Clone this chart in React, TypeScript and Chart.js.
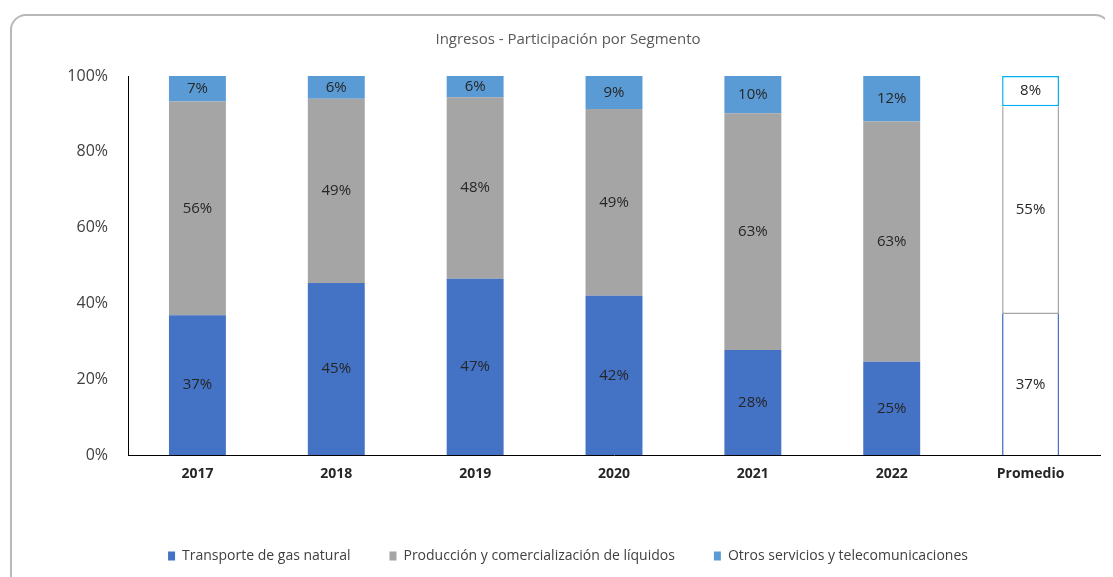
import React, { useEffect, useRef } from "react";
import { Chart, registerables } from "chart.js";

Chart.register(...registerables);

const categories = ["2017", "2018", "2019", "2020", "2021", "2022", "Promedio"];
const transporte = [36.9, 45.4, 46.5, 42.0, 27.7, 24.6, 37.2];
const produccion = [56.4, 48.6, 47.9, 49.3, 62.5, 63.4, 54.8];
const otros = [6.7, 6.0, 5.6, 8.7, 9.8, 12.0, 8.0];
const yTicks = [0, 20, 40, 60, 80, 100];

const seriesNames = [
  "Transporte de gas natural",
  "Producción y comercialización de líquidos",
  "Otros servicios y telecomunicaciones",
];
const fillColors = ["#4472C4", "#A5A5A5", "#5B9BD5"];
const promedioBorders = ["#4472C4", "#A5A5A5", "#00B0F0"];
const promedioEdges = [
  { top: 0, bottom: 0, left: 1.5, right: 1.5 },
  { top: 0, bottom: 1.5, left: 1.5, right: 1.5 },
  { top: 1.5, bottom: 1.5, left: 1.5, right: 1.5 },
];
const PROM = categories.length - 1;

const FONT = "'Open Sans', 'Noto Sans', sans-serif";

const labelPlugin = {
  id: "segLabels",
  afterDatasetsDraw(chart: any) {
    const ctx = chart.ctx;
    ctx.save();
    ctx.font = `15px ${FONT}`;
    ctx.fillStyle = "#262626";
    ctx.textAlign = "center";
    ctx.textBaseline = "middle";
    chart.data.datasets.forEach((ds: any, di: number) => {
      const meta = chart.getDatasetMeta(di);
      meta.data.forEach((el: any, i: number) => {
        const v = ds.data[i];
        const yMid = (el.y + el.base) / 2;
        ctx.fillText(Math.round(v) + "%", el.x, yMid);
      });
    });
    ctx.restore();
  },
};

function makeDataset(name: string, data: number[], k: number) {
  return {
    label: name,
    data,
    backgroundColor: (c: any) => (c.dataIndex === PROM ? "#FFFFFF" : fillColors[k]),
    borderColor: (c: any) => (c.dataIndex === PROM ? promedioBorders[k] : fillColors[k]),
    borderWidth: (c: any) => (c.dataIndex === PROM ? promedioEdges[k] : 0),
    borderSkipped: false,
    categoryPercentage: 1,
    barPercentage: 0.41,
  };
}

export default function App() {
  const ref = useRef<HTMLCanvasElement | null>(null);

  useEffect(() => {
    if (!ref.current) return;
    const chart = new Chart(ref.current, {
      type: "bar",
      data: {
        labels: categories,
        datasets: [
          makeDataset(seriesNames[0], transporte, 0),
          makeDataset(seriesNames[1], produccion, 1),
          makeDataset(seriesNames[2], otros, 2),
        ] as any,
      },
      options: {
        responsive: false,
        animation: false,
        devicePixelRatio: 1,
        layout: { padding: { left: 28, right: 13, top: 0, bottom: 4 } },
        plugins: {
          title: {
            display: true,
            text: "Ingresos - Participación por Segmento",
            color: "#595959",
            font: { family: FONT, size: 15, weight: "normal" as any },
            padding: { top: 23, bottom: 27 },
          },
          legend: {
            position: "bottom",
            labels: {
              boxWidth: 7,
              boxHeight: 9,
              padding: 39,
              color: "#404040",
              font: { family: FONT, size: 14 },
            },
          },
          tooltip: { enabled: false },
        },
        scales: {
          x: {
            stacked: true,
            grid: { display: false, drawTicks: false },
            border: { display: true, color: "#000000", width: 1 },
            ticks: {
              color: "#262626",
              font: { family: FONT, size: 14, weight: "bold" as any },
              padding: 11,
            },
            afterFit: (s: any) => {
              s.height = 55;
            },
          },
          y: {
            stacked: true,
            min: 0,
            max: 100,
            afterBuildTicks: (s: any) => {
              s.ticks = yTicks.map((v) => ({ value: v }));
            },
            grid: { display: false, drawTicks: false },
            border: { display: true, color: "#000000", width: 1 },
            ticks: {
              color: "#404040",
              font: { family: FONT, size: 16 },
              padding: 20,
              callback: (v: any) => v + "%",
            },
            afterFit: (s: any) => {
              s.width = 92;
            },
          },
        },
      },
      plugins: [labelPlugin],
    });
    return () => chart.destroy();
  }, []);

  return (
    <div
      style={{
        position: "relative",
        width: 1105,
        height: 569,
        overflow: "hidden",
        background: "#FFFFFF",
      }}
    >
      <div
        style={{
          position: "absolute",
          left: 2,
          top: 6,
          width: 1101,
          height: 600,
          border: "2px solid #B8B8B8",
          borderRadius: 16,
          boxSizing: "border-box",
        }}
      />
      <canvas
        ref={ref}
        width={1105}
        height={569}
        style={{ position: "absolute", left: 0, top: 0, width: 1105, height: 569 }}
      />
    </div>
  );
}
